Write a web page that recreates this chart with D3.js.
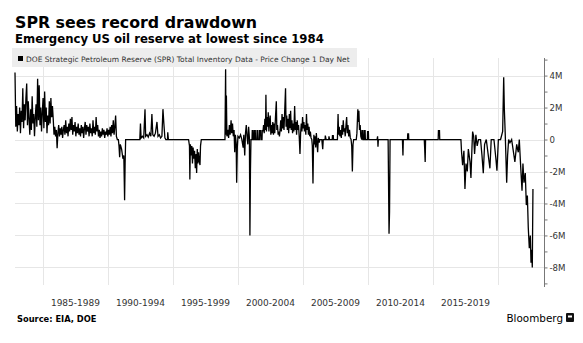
<!DOCTYPE html>
<html>
<head>
<meta charset="utf-8">
<script src="https://cdn.jsdelivr.net/npm/d3@7"></script>
<style>
  html, body { margin: 0; padding: 0; background: #fff; }
  svg { display: block; }
  text { font-family: 'DejaVu Sans', sans-serif; }
</style>
</head>
<body>
<div id="chart"></div>
<script>
// titles
const title = 'SPR sees record drawdown';
const subtitle = 'Emergency US oil reserve at lowest since 1984';
const legendLabel = 'DOE Strategic Petroleum Reserve (SPR) Total Inventory Data - Price Change 1 Day Net';
const source = 'Source: EIA, DOE';

// x bands (5 year groups) and y ticks (millions of barrels)
const periods = ['1985-1989', '1990-1994', '1995-1999', '2000-2004', '2005-2009', '2010-2014', '2015-2019'];
const periodStarts = [1985, 1990, 1995, 2000, 2005, 2010, 2015, 2020];
const yTicks = [-9, -8, -7, -6, -5, -4, -3, -2, -1, 0, 1, 2, 3, 4, 5];

// early fill period, one reading every 0.06 yr starting late 1982
const earlyStart = 1982.85;
const earlyStep = 0.06;
const earlyValues = [
  4.2, 0.8, 2.1, 0.5, 1.6, 0.9, 2.0, 0.4, 1.8, 1.1,
  3.2, 0.7, 2.2, 1.2, 2.6, 3.5, 0.9, 2.4, 1.3, 0.3,
  1.9, 0.6, 2.7, 1.0, 1.6, 0.2, 1.4, 2.2, 0.8, 3.8,
  1.2, 3.4, 0.9, 2.0, 0.5, 1.7, 2.6, 0.7, 3.0, 1.1,
  2.0, 0.4, 1.5, 0.9, 2.4, 1.0, 2.6, 1.4, 2.1, 1.3,
  0.3, 0.8, 0.2, 0.6, -0.55, 0.4, 0.9, 0.2, 0.7, 0.3,
  0.8, 0.1, 0.6, 0.9, 0.3, 1.2, 0.4, 0.8, 0.2, 1.0,
  0.5, 1.3, 0.6, 1.4, 0.3, 0.9, 0.5, 1.1, 0.2, 0.8,
  0.4, 1.0, 0.3, 0.7, 0.2, 0.9, 0.4, 0.8, 0.1, 0.7,
  1.1, 0.3, 0.9, 0.5, 0.8, 0.2, 1.0, 0.4, 0.7, 0.2,
  1.2, 0.4, 0.8, 0.3, 1.4, 0.5, 0.9, 0.2, 0.6, 0.1,
  0.5, 0.2, 0.7, 0.3, 0.6, 0.1, 0.5, 0.3, 0.7, 0.2,
  0.6, 0.3, 0.8, 0.2, 0.9, 0.4, 1.2, 0.3, 0.8, 1.5,
  0.2
];

// [year, change in M barrels]
const gulfWar = [
  [1990.72, 0], [1990.8, 0], [1990.85, -0.4], [1990.9, -1.1], [1990.95, -0.3],
  [1991.05, -0.6], [1991.15, -1.2], [1991.22, -1.0], [1991.28, -3.8], [1991.32, -1.5],
  [1991.36, 0]
];
const fill1993 = [
  [1992.45, 0], [1992.5, 1.0], [1992.55, 0.1], [1992.65, 0.2], [1992.75, 0.1],
  [1992.85, 1.9], [1992.9, 0.2], [1993.0, 0.3], [1993.1, 0.15], [1993.2, 0.4],
  [1993.3, 0.2], [1993.38, 1.6], [1993.45, 0.3], [1993.55, 0.2], [1993.65, 0.4],
  [1993.77, 1.1], [1993.85, 0.2], [1993.95, 0.3], [1994.05, 0.1], [1994.15, 0.2],
  [1994.23, 1.9], [1994.3, 1.0], [1994.38, 0.1], [1994.45, 0], [1994.58, 0],
  [1994.6, 0.45], [1994.65, 0]
];
const sale1996 = [
  [1996.2, 0], [1996.27, -0.4], [1996.3, -2.5], [1996.34, -0.3], [1996.4, -1.0],
  [1996.45, -0.4], [1996.5, -1.5], [1996.55, -0.5], [1996.6, -1.2], [1996.66, -0.7],
  [1996.72, -1.8], [1996.78, -0.9], [1996.82, -2.1], [1996.87, -0.6], [1996.92, -1.5],
  [1996.97, -0.8], [1997.02, -1.3], [1997.08, -1.6], [1997.12, -0.4], [1997.18, 0]
];
const swap2000 = [
  [1999.0, 0], [1999.05, 4.4], [1999.08, 0.3], [1999.11, 2.75], [1999.15, 0.2],
  [1999.22, 0.6], [1999.28, 0.1], [1999.34, 0.9], [1999.4, 0.3], [1999.47, 1.2],
  [1999.52, 0.4], [1999.58, 1.0], [1999.64, 0.2], [1999.7, 0.6], [1999.75, -0.8],
  [1999.8, 0.3], [1999.86, -0.2], [1999.9, -2.7], [1999.95, -0.5], [2000.0, 0.2],
  [2000.1, 0.1], [2000.2, 0.3], [2000.3, 0], [2000.4, -0.5], [2000.45, 0.3],
  [2000.52, -1.0], [2000.58, 0.4], [2000.64, 0.9], [2000.7, 0.2], [2000.76, -0.3],
  [2000.82, 0.8], [2000.88, 0.1], [2000.92, -6.0], [2000.96, -2.0], [2001.0, 0]
];
const fill2003 = [
  [2001.08, 0], [2001.1, 0.55], [2001.16, 0.55], [2001.18, 0], [2001.25, 0],
  [2001.27, 0.55], [2001.33, 0.55], [2001.35, 0], [2001.45, 0], [2001.47, 0.55],
  [2001.53, 0.55], [2001.55, 0], [2001.65, 0], [2001.67, 0.55], [2001.75, 0.55],
  [2001.77, 0], [2001.85, 0], [2001.87, 0.55], [2001.93, 0.55],
  [2001.97, 0.9], [2002.02, 0.4], [2002.07, 1.3], [2002.12, 0.6], [2002.15, 2.8],
  [2002.19, 0.5], [2002.24, 1.4], [2002.29, 0.8], [2002.33, 1.7], [2002.38, 0.5],
  [2002.43, 1.2], [2002.48, 1.5], [2002.53, 0.3], [2002.58, 0.9], [2002.63, 0.4],
  [2002.68, 1.1], [2002.73, 0.3], [2002.78, 1.0], [2002.83, 0.4], [2002.88, 1.3],
  [2002.95, 2.4], [2002.99, 0.6], [2003.04, 0.9], [2003.09, 0.3], [2003.14, 0.5],
  [2003.19, 0.2], [2003.24, 0.6], [2003.29, 1.2], [2003.34, 0.5], [2003.39, 1.6],
  [2003.44, 0.7], [2003.49, 1.4], [2003.54, 0.6], [2003.6, 1.9], [2003.66, 3.2],
  [2003.7, 0.8], [2003.75, 1.5], [2003.8, 0.6], [2003.85, 1.3], [2003.9, 0.4],
  [2003.95, 1.6], [2004.0, 0.7], [2004.05, 1.8], [2004.1, 0.6], [2004.15, 1.2],
  [2004.2, 0.4], [2004.25, 1.0], [2004.3, 0.5], [2004.36, 2.1], [2004.41, 0.6],
  [2004.46, 1.1], [2004.51, 0.3], [2004.56, 1.2], [2004.61, 0.6], [2004.66, 0.9],
  [2004.71, 0.2], [2004.77, -0.9], [2004.82, 0.4], [2004.87, 1.0], [2004.92, 0.5],
  [2004.97, 1.4], [2005.02, 0.7], [2005.07, 1.1], [2005.12, 0.5], [2005.17, 0.9],
  [2005.22, 0.3], [2005.27, 1.6], [2005.32, 0.6], [2005.37, 1.0], [2005.42, 0.3],
  [2005.47, 0.8], [2005.52, 0.2], [2005.57, 0.5], [2005.62, 0.1], [2005.68, 0]
];
const katrina2005 = [
  [2005.72, -0.4], [2005.77, -2.75], [2005.8, -1.0], [2005.84, 0.3], [2005.88, -0.3],
  [2005.93, 0.2], [2005.98, -0.5], [2006.03, 0.4], [2006.08, -0.2], [2006.13, -0.8],
  [2006.18, 0.1], [2006.25, -0.2], [2006.3, 0], [2006.45, 0], [2006.52, -0.6],
  [2006.56, 0], [2006.7, 0], [2006.72, 0.25], [2006.78, 0], [2006.98, 0],
  [2007.0, 0.2], [2007.05, 0], [2007.25, 0], [2007.27, 0.25], [2007.33, 0.25],
  [2007.35, 0]
];
const fill2008 = [
  [2007.65, 0], [2007.7, 1.6], [2007.74, 0.3], [2007.79, 0.8], [2007.84, 0.2],
  [2007.9, 0.6], [2007.95, 0.1], [2008.0, 0.9], [2008.05, 0.3], [2008.1, 1.2],
  [2008.15, 0.5], [2008.2, 0.7], [2008.25, 0.2], [2008.3, 0.8], [2008.36, 1.4],
  [2008.41, 0.4], [2008.46, 0.9], [2008.52, 0.2], [2008.58, 0.6], [2008.64, 0.1],
  [2008.7, 0], [2008.75, -0.4], [2008.8, -2.0], [2008.85, -0.3], [2008.9, 0],
  [2009.1, 0], [2009.15, 0.4], [2009.22, 1.9], [2009.26, 1.1], [2009.3, 1.8],
  [2009.35, 0.6], [2009.4, 0.9], [2009.45, 0.2], [2009.52, 0], [2009.54, 0.55],
  [2009.6, 0.55], [2009.62, 0], [2009.7, 0], [2009.72, 0.55], [2009.78, 0.55],
  [2009.8, 0], [2009.95, 0], [2009.97, 0.5], [2010.03, 0.5], [2010.05, 0]
];
const sales2011 = [
  [2010.7, 0], [2010.74, 0.2], [2010.77, -0.45], [2010.8, 0],
  [2011.55, 0], [2011.58, -2.5], [2011.62, -5.9], [2011.66, -4.5], [2011.7, 0],
  [2012.65, 0], [2012.69, -1.0], [2012.72, 0],
  [2013.04, 0], [2013.06, 0.35], [2013.12, 0.35], [2013.14, 0],
  [2014.33, 0], [2014.36, -0.5], [2014.4, -1.4], [2014.43, 0],
  [2015.4, 0], [2015.42, 0.55], [2015.5, 0.55], [2015.52, 0]
];
const sales2017 = [
  [2017.15, 0], [2017.2, -0.8], [2017.28, -1.6], [2017.38, -0.7], [2017.46, -3.1],
  [2017.54, -1.5], [2017.64, -2.0], [2017.72, -0.6], [2017.85, -1.4], [2017.92, -2.4],
  [2018.0, -0.5], [2018.05, 0.5], [2018.13, 0.2], [2018.2, -0.9], [2018.3, 0.3],
  [2018.4, -0.4], [2018.5, 0], [2018.66, 0], [2018.77, -1.0], [2018.87, -2.1],
  [2018.97, -0.3], [2019.1, 0], [2019.38, -1.8], [2019.48, 0], [2019.69, 0],
  [2019.84, -1.2], [2019.92, -1.95], [2020.03, 0], [2020.2, 0], [2020.36, 0.5],
  [2020.44, 3.9], [2020.49, 1.9], [2020.56, 0.3], [2020.67, -2.7], [2020.74, -1.0],
  [2020.82, 0], [2020.92, -0.2], [2021.05, 0], [2021.3, -1.4], [2021.44, -0.3],
  [2021.56, -0.8], [2021.64, 0], [2021.74, -1.6], [2021.85, -3.2], [2021.92, -1.5],
  [2022.0, -2.7], [2022.1, -2.1], [2022.18, -4.1], [2022.26, -3.5], [2022.33, -5.5],
  [2022.41, -6.8], [2022.49, -6.0], [2022.54, -7.7], [2022.59, -6.9], [2022.64, -8.0],
  [2022.69, -3.1]
];

const Chart = {
  width: 583,
  height: 343,
  plot: { left: 15, right: 544, top: 58, bottom: 285 },

  init() {
    this.$svg = d3.select('#chart').append('svg')
      .attr('width', this.width)
      .attr('height', this.height);

    this.scaleX = d3.scaleLinear()
      .domain([1982.85, 2023.54])
      .range([this.plot.left, this.plot.right]);
    this.scaleY = d3.scaleLinear()
      .domain([-9.1, 5.1])
      .range([this.plot.bottom, this.plot.top]);

    this.render();
  },

  series() {
    const early = earlyValues.map((v, i) => [earlyStart + i * earlyStep, v]);
    return early.concat(gulfWar, fill1993, sale1996, swap2000, fill2003,
      katrina2005, fill2008, sales2011, sales2017);
  },

  render() {
    const { $svg, scaleX, scaleY, plot } = this;

    // headings
    $svg.append('text')
      .attr('x', 15).attr('y', 28)
      .style('font-size', '15.8px').style('font-weight', 'bold')
      .attr('fill', '#000')
      .text(title);
    $svg.append('text')
      .attr('x', 15).attr('y', 43)
      .style('font-size', '11.7px').style('font-weight', 'bold')
      .attr('fill', '#000')
      .text(subtitle);

    // grid
    const $grid = $svg.append('g').attr('class', 'g-grid');
    $grid.selectAll('.h').data(yTicks.filter(d => d % 2 === 0))
      .join('line')
      .attr('x1', plot.left).attr('x2', plot.right)
      .attr('y1', d => Math.round(scaleY(d)) + 0.5)
      .attr('y2', d => Math.round(scaleY(d)) + 0.5)
      .attr('stroke', '#e6e6e6');
    $grid.selectAll('.v').data(periodStarts)
      .join('line')
      .attr('x1', d => Math.round(scaleX(d)) + 0.5)
      .attr('x2', d => Math.round(scaleX(d)) + 0.5)
      .attr('y1', plot.top).attr('y2', plot.bottom)
      .attr('stroke', '#e6e6e6');

    // legend box
    const $legend = $svg.append('g').attr('class', 'g-legend');
    $legend.append('rect')
      .attr('x', 12).attr('y', 48).attr('width', 345).attr('height', 19)
      .attr('fill', '#ededed');
    $legend.append('rect')
      .attr('x', 18).attr('y', 56).attr('width', 5).attr('height', 5)
      .attr('fill', '#000');
    $legend.append('text')
      .attr('x', 26).attr('y', 61.5)
      .style('font-size', '7.5px')
      .attr('fill', '#333')
      .text(legendLabel);

    // right axis
    const axis = d3.axisRight(scaleY)
      .tickValues(yTicks)
      .tickSize(3)
      .tickPadding(2)
      .tickFormat(d => (d % 2 !== 0 ? '' : d === 0 ? '0' : `${d}M`));
    const $axis = $svg.append('g')
      .attr('class', 'g-axis')
      .attr('transform', `translate(${plot.right + 0.5}, 0)`)
      .call(axis);
    $axis.select('.domain').attr('stroke', '#777').attr('d', `M0,${plot.top}V${plot.bottom + 2}`);
    $axis.selectAll('.tick line').attr('stroke', '#777');
    $axis.selectAll('.tick text')
      .style('font-family', "'DejaVu Sans', sans-serif")
      .style('font-size', '8.6px')
      .attr('fill', '#333');

    // period labels centred in each band
    $svg.append('g').attr('class', 'g-xlabels')
      .selectAll('text').data(periods)
      .join('text')
      .attr('x', (d, i) => (scaleX(periodStarts[i]) + scaleX(periodStarts[i + 1])) / 2)
      .attr('y', 306)
      .attr('text-anchor', 'middle')
      .style('font-size', '9px')
      .attr('fill', '#333')
      .text(d => d);

    // data line
    const line = d3.line()
      .x(d => scaleX(d[0]))
      .y(d => scaleY(d[1]));
    $svg.append('path')
      .datum(this.series())
      .attr('d', line)
      .attr('fill', 'none')
      .attr('stroke', '#000')
      .attr('stroke-width', 1.3)
      .attr('stroke-linejoin', 'miter');

    // footer
    $svg.append('text')
      .attr('x', 17).attr('y', 321.5)
      .style('font-size', '8.3px').style('font-weight', 'bold')
      .attr('fill', '#000')
      .text(source);
    $svg.append('text')
      .attr('x', 563).attr('y', 322)
      .attr('text-anchor', 'end')
      .style('font-size', '10.4px')
      .attr('fill', '#000')
      .text('Bloomberg');
    $svg.append('rect')
      .attr('x', 566).attr('y', 313).attr('width', 8).attr('height', 9).attr('rx', 1)
      .attr('fill', '#111');
    $svg.append('rect')
      .attr('x', 568).attr('y', 315.5).attr('width', 4).attr('height', 2)
      .attr('fill', '#fff');
  }
};

Chart.init();
</script>
</body>
</html>
